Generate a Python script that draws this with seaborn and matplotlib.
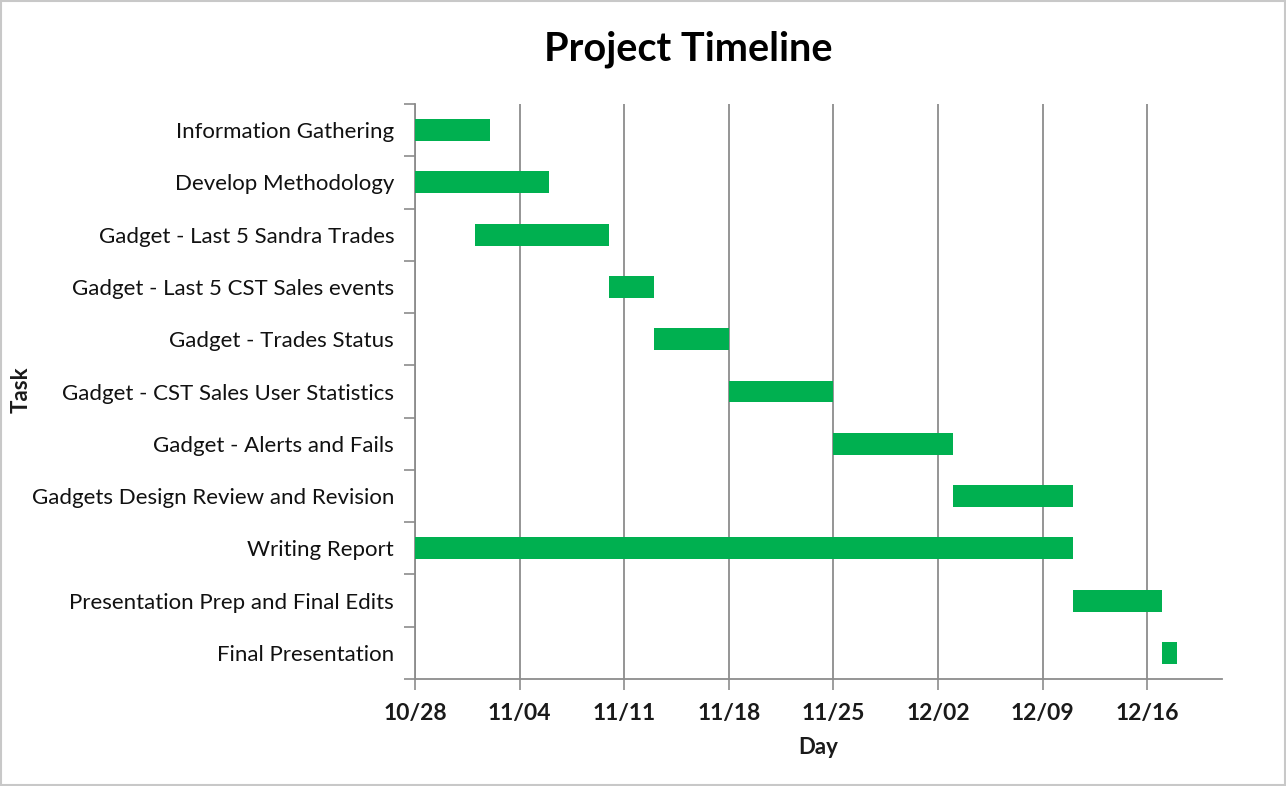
import matplotlib
matplotlib.use("Agg")
import matplotlib.pyplot as plt
import seaborn as sns
import pandas as pd
import numpy as np
from matplotlib.patches import Rectangle

tasks = ["Information Gathering", "Develop Methodology", "Gadget - Last 5 Sandra Trades",
         "Gadget - Last 5 CST Sales events", "Gadget - Trades Status",
         "Gadget - CST Sales User Statistics", "Gadget - Alerts and Fails",
         "Gadgets Design Review and Revision", "Writing Report",
         "Presentation Prep and Final Edits", "Final Presentation"]
start_day = [0, 0, 4, 13, 16, 21, 28, 36, 0, 44, 50]   # days after 10/28
duration = [5, 9, 9, 3, 5, 7, 8, 8, 44, 6, 1]
tick_days = [0, 7, 14, 21, 28, 35, 42, 49]
tick_labels = ["10/28", "11/04", "11/11", "11/18", "11/25", "12/02", "12/09", "12/16"]
x_max = 54

df = pd.DataFrame({"Task": tasks, "Start": start_day, "Duration": duration})

sns.set_theme(style="white")
plt.rcParams["font.family"] = ["Lato", "DejaVu Sans"]

fig = plt.figure(figsize=(12.86, 7.86), dpi=100)
ax = fig.add_axes([0.3227, 0.1361, 0.9502 - 0.3227, 0.8677 - 0.1361])

sns.barplot(data=df, x="Duration", y="Task", order=tasks, orient="h",
            color="#00B050", saturation=1, width=0.42, left=df["Start"].values,
            linewidth=0, ax=ax, zorder=3)

ax.set_xlim(0, x_max)
ax.set_ylim(len(tasks) - 0.5, -0.5)
ax.set_xticks(tick_days)
ax.set_xticklabels(tick_labels, fontsize=16.5, fontweight="bold", color="#1a1a1a")
ax.tick_params(axis="y", which="major", length=0, pad=15, labelsize=16)
for lbl in ax.get_yticklabels():
    lbl.set_color("#111111")
ax.set_yticks(np.arange(-0.5, len(tasks), 1.0), minor=True)
ax.tick_params(axis="y", which="minor", length=8, width=1.2, color="#8c8c8c", direction="out", left=True)
ax.tick_params(axis="x", which="major", length=8, width=1.2, color="#8c8c8c", direction="out", bottom=True, pad=9)

ax.grid(axis="x", color="#8c8c8c", linewidth=1.3, zorder=1)
ax.set_axisbelow(True)
for s in ["top", "right"]:
    ax.spines[s].set_visible(False)
for s in ["left", "bottom"]:
    ax.spines[s].set_color("#8c8c8c")
    ax.spines[s].set_linewidth(1.3)

ax.set_xlabel("Day", fontsize=16, fontweight="bold", color="#1a1a1a")
ax.xaxis.set_label_coords(818 / 1286, 1 - 737 / 786, transform=fig.transFigure)
ax.set_ylabel("Task", fontsize=16, fontweight="bold", color="#1a1a1a")
ax.yaxis.set_label_coords(32 / 1286, 1 - 390 / 786, transform=fig.transFigure)

fig.text(688 / 1286, 1 - 49 / 786, "Project Timeline", ha="center", va="center",
         fontsize=28.5, fontweight="bold", color="#000000")

fig.patches.append(Rectangle((0.001, 0.001), 0.998, 0.998, transform=fig.transFigure,
                             fill=False, edgecolor="#c8c8c8", linewidth=1.5))

fig.savefig("out.png", dpi=100)
